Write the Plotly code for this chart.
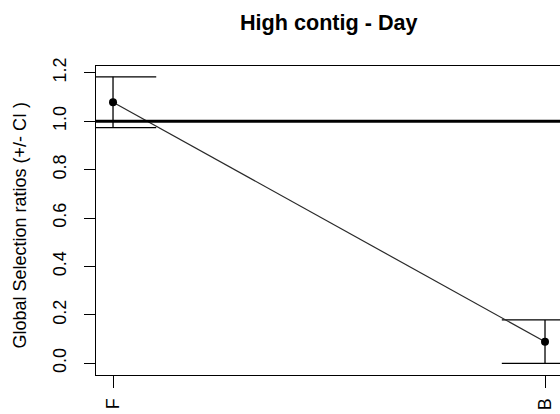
import plotly.graph_objects as go

# Selection ratios by habitat with confidence intervals
categories = ["F", "B"]
ratio = [1.078, 0.089]
ci_lower = [0.973, 0.0]
ci_upper = [1.183, 0.179]
y_tick_vals = [0.0, 0.2, 0.4, 0.6, 0.8, 1.0, 1.2]
y_tick_text = ["0.0", "0.2", "0.4", "0.6", "0.8", "1.0", "1.2"]

FONT = "Liberation Sans, Arial, Helvetica, sans-serif"
CAP_HALF = 0.1  # half-width of the CI caps, in x units
xs = list(range(1, len(categories) + 1))

fig = go.Figure()

# vertical CI segments and horizontal caps
ex, ey = [], []
for x, lo, hi in zip(xs, ci_lower, ci_upper):
    ex += [x, x, None, x - CAP_HALF, x + CAP_HALF, None, x - CAP_HALF, x + CAP_HALF, None]
    ey += [lo, hi, None, hi, hi, None, lo, lo, None]
fig.add_trace(go.Scatter(x=ex, y=ey, mode="lines",
                         line=dict(color="black", width=1.3),
                         hoverinfo="skip", showlegend=False))

# line joining the ratios
fig.add_trace(go.Scatter(x=xs, y=ratio, mode="lines",
                         line=dict(color="#2a2a2a", width=1.2),
                         showlegend=False))
# ratio points
fig.add_trace(go.Scatter(x=xs, y=ratio, mode="markers",
                         marker=dict(color="black", size=8),
                         showlegend=False))

# reference line at ratio = 1
fig.add_shape(type="line", xref="paper", x0=0, x1=1, yref="y", y0=1, y1=1,
              line=dict(color="black", width=3))

fig.update_layout(
    width=560, height=414,
    margin=dict(l=96, r=0, t=66, b=39),
    paper_bgcolor="white", plot_bgcolor="white",
    font=dict(family=FONT, size=18, color="black"),
    xaxis=dict(range=[0.9606, 2.0347], tickvals=xs, ticktext=categories,
               tickangle=-90, ticks="outside", ticklen=12, tickwidth=1.3,
               tickcolor="black", showline=True, mirror=True,
               linecolor="black", linewidth=1.3, showgrid=False,
               zeroline=False, ticklabelstandoff=3),
    yaxis=dict(range=[-0.0483, 1.2277], tickvals=y_tick_vals, ticktext=y_tick_text,
               tickangle=-90, ticks="outside", ticklen=11, tickwidth=1.3,
               tickcolor="black", showline=True, mirror=False,
               linecolor="black", linewidth=1.3, showgrid=False,
               zeroline=False, ticklabelstandoff=11),
    annotations=[
        dict(text="<b>High contig - Day</b>", xref="paper", yref="paper",
             x=0.502, y=1.142, xanchor="center", yanchor="middle",
             showarrow=False, font=dict(size=21.6, family=FONT)),
        dict(text="Global Selection ratios (+/- CI )", xref="paper", yref="paper",
             x=-0.1638, y=0.487, xanchor="center", yanchor="middle",
             textangle=-90, showarrow=False, font=dict(size=18, family=FONT)),
    ],
)

fig.write_html("out.html")
